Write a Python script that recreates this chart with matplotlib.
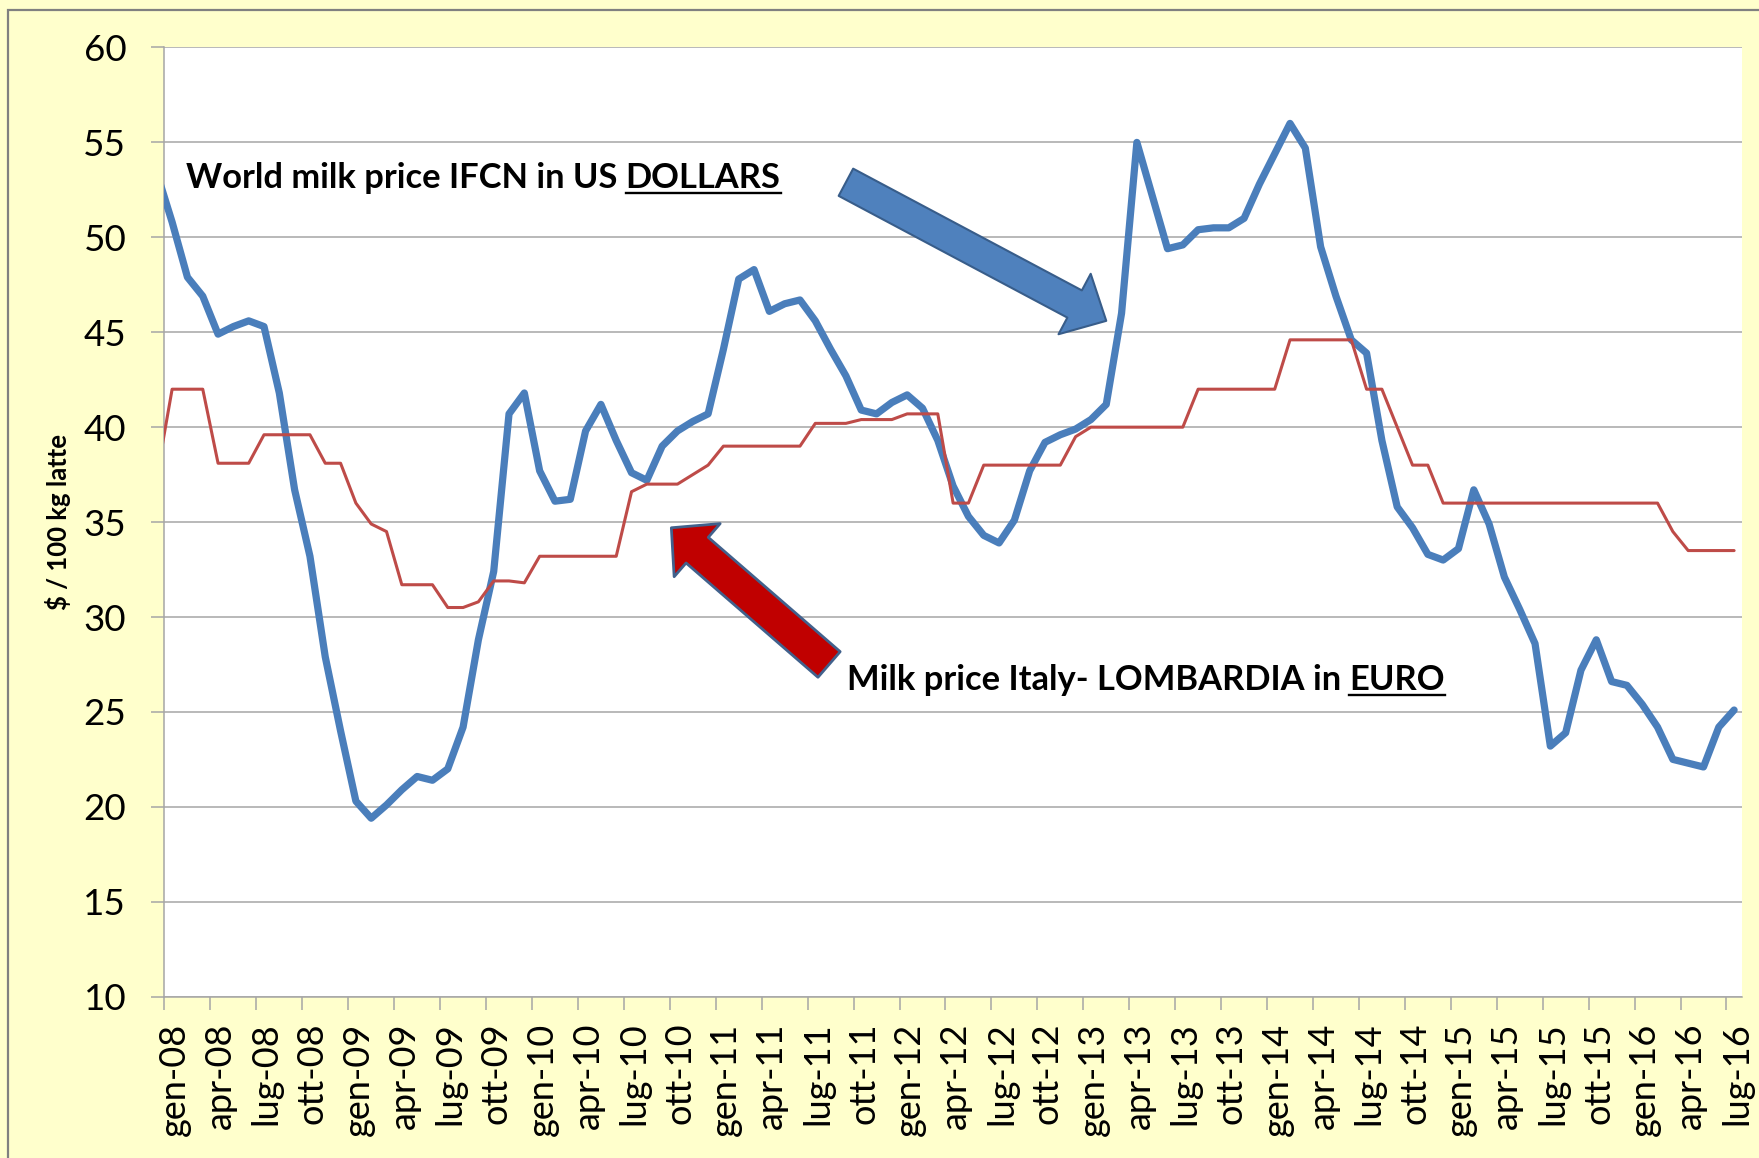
import matplotlib
matplotlib.use("Agg")
import matplotlib.pyplot as plt
import numpy as np
from matplotlib.patches import Rectangle, ArrowStyle
from matplotlib.lines import Line2D
from matplotlib.transforms import ScaledTranslation

plt.rcParams["font.family"] = ["Lato", "DejaVu Sans"]

MESI = ["gen", "feb", "mar", "apr", "mag", "giu", "lug", "ago", "set", "ott", "nov", "dic"]

# monthly observations dic-07 .. lug-16
months = ["dic-07"] + [f"{m}-{y:02d}" for y in range(8, 17) for m in MESI][:103]

# World milk price IFCN, US$ / 100 kg
world_usd = [
    53.4, 50.8, 47.9, 46.9, 44.9, 45.3, 45.6, 45.3, 41.8, 36.7, 33.2, 27.9,
    24.0, 20.3, 19.4, 20.1, 20.9, 21.6, 21.4, 22.0, 24.2, 28.8, 32.4, 40.7,
    41.8, 37.7, 36.1, 36.2, 39.8, 41.2, 39.3, 37.6, 37.2, 39.0, 39.8, 40.3,
    40.7, 44.1, 47.8, 48.3, 46.1, 46.5, 46.7, 45.6, 44.1, 42.7, 40.9, 40.7,
    41.3, 41.7, 41.0, 39.3, 36.9, 35.3, 34.3, 33.9, 35.1, 37.7, 39.2, 39.6,
    39.9, 40.4, 41.2, 46.0, 55.0, 52.2, 49.4, 49.6, 50.4, 50.5, 50.5, 51.0,
    52.8, 54.4, 56.0, 54.7, 49.5, 46.9, 44.6, 43.9, 39.3, 35.8, 34.7, 33.3,
    33.0, 33.6, 36.7, 34.9, 32.1, 30.4, 28.6, 23.2, 23.9, 27.2, 28.8, 26.6,
    26.4, 25.4, 24.2, 22.5, 22.3, 22.1, 24.2, 25.1,
]

# Milk price Italy - Lombardia, EUR / 100 kg
lombardia_eur = [
    37.4, 42.0, 42.0, 42.0, 38.1, 38.1, 38.1, 39.6, 39.6, 39.6, 39.6, 38.1,
    38.1, 36.0, 34.9, 34.5, 31.7, 31.7, 31.7, 30.5, 30.5, 30.8, 31.9, 31.9,
    31.8, 33.2, 33.2, 33.2, 33.2, 33.2, 33.2, 36.6, 37.0, 37.0, 37.0, 37.5,
    38.0, 39.0, 39.0, 39.0, 39.0, 39.0, 39.0, 40.2, 40.2, 40.2, 40.4, 40.4,
    40.4, 40.7, 40.7, 40.7, 36.0, 36.0, 38.0, 38.0, 38.0, 38.0, 38.0, 38.0,
    39.5, 40.0, 40.0, 40.0, 40.0, 40.0, 40.0, 40.0, 42.0, 42.0, 42.0, 42.0,
    42.0, 42.0, 44.6, 44.6, 44.6, 44.6, 44.6, 42.0, 42.0, 40.0, 38.0, 38.0,
    36.0, 36.0, 36.0, 36.0, 36.0, 36.0, 36.0, 36.0, 36.0, 36.0, 36.0, 36.0,
    36.0, 36.0, 36.0, 34.5, 33.5, 33.5, 33.5, 33.5,
]

yticks = list(range(10, 61, 5))

BG = "#FFFFCC"
BLUE = "#4A7EBB"
RED = "#BE4B48"
GRID = "#A6A6A6"

x = np.arange(len(months)) - 0.5   # points sit between the monthly ticks
tick_pos = np.arange(0, len(months) - 1, 3)
tick_lab = months[1::3]

fig = plt.figure(figsize=(17.59, 11.58), dpi=100, facecolor=BG)
fig.add_artist(Rectangle((7.5 / 1759, -0.1), 1.2, 1.1 - 9.5 / 1158,
                         transform=fig.transFigure, fill=False,
                         ec="#808080", lw=1.6))

ax = fig.add_axes([0.0935, 0.1393, 0.8967, 0.8197])
ax.set_facecolor("white")

ax.plot(x, world_usd, color=BLUE, lw=5.2, solid_joinstyle="round",
        solid_capstyle="round", zorder=3)
ax.plot(x, lombardia_eur, color=RED, lw=2.2, solid_joinstyle="round",
        solid_capstyle="round", zorder=4)

ax.set_xlim(0, 103)
ax.set_ylim(10, 60)
ax.set_yticks(yticks)
ax.set_xticks(tick_pos, tick_lab, rotation=90)
ax.grid(axis="y", color=GRID, lw=1.1)
ax.set_axisbelow(True)
for s in ["top", "right"]:
    ax.spines[s].set_visible(False)
for s in ["left", "bottom"]:
    ax.spines[s].set_color(GRID)
    ax.spines[s].set_linewidth(1.1)

ax.tick_params(axis="y", length=9.5, width=1.1, color=GRID, pad=18, labelsize=26.5)
ax.tick_params(axis="x", length=9.5, width=1.1, color=GRID, pad=9, labelsize=26)
for lab in ax.get_xticklabels():
    lab.set_transform(lab.get_transform() + ScaledTranslation(0.1, 0, fig.dpi_scale_trans))

ax.set_ylabel("$ / 100 kg latte", fontsize=18.5, fontweight="bold")
ax.yaxis.set_label_coords(-0.059, 0.5)

# annotations
kw = dict(fontsize=24.8, fontweight="bold", color="black")
t1 = ax.text(0.0136, 0.8517, "World milk price IFCN in US", transform=ax.transAxes,
             va="baseline", **kw)
t2 = ax.annotate("DOLLARS", xy=(1, 0), xycoords=t1, xytext=(6, 0),
                 textcoords="offset points", va="bottom", **kw)
t3 = ax.text(0.4325, 0.3231, "Milk price Italy- LOMBARDIA in", transform=ax.transAxes,
             va="baseline", **kw)
t4 = ax.annotate("EURO", xy=(1, 0), xycoords=t3, xytext=(6, 0),
                 textcoords="offset points", va="bottom", **kw)

ax.annotate("", xy=(61.5, 45.6), xytext=(44.5, 52.9),
            arrowprops=dict(arrowstyle=ArrowStyle.Simple(head_length=2.58, head_width=4.93,
                                                         tail_width=2.22),
                            mutation_scale=10, fc="#4F81BD", ec="#385D8A", lw=1.5,
                            shrinkA=0, shrinkB=0), zorder=5)
ax.annotate("", xy=(33.1, 34.7), xytext=(43.4, 27.5),
            arrowprops=dict(arrowstyle=ArrowStyle.Simple(head_length=2.46, head_width=5.06,
                                                         tail_width=2.44),
                            mutation_scale=10, fc="#C00000", ec="#41618C", lw=2,
                            shrinkA=0, shrinkB=0), zorder=5)

fig.canvas.draw()
renderer = fig.canvas.get_renderer()
for t in (t2, t4):
    bb = t.get_window_extent(renderer)
    _, _, d = renderer.get_text_width_height_descent("lp", t.get_fontproperties(), ismath=False)
    y = bb.y0 + d - 4.5
    (x0, y0), (x1, _) = fig.transFigure.inverted().transform([(bb.x0, y), (bb.x1, y)])
    fig.add_artist(Line2D([x0, x1], [y0, y0], color="black", lw=1.7))

fig.savefig("out.png", dpi=100, facecolor=BG)
